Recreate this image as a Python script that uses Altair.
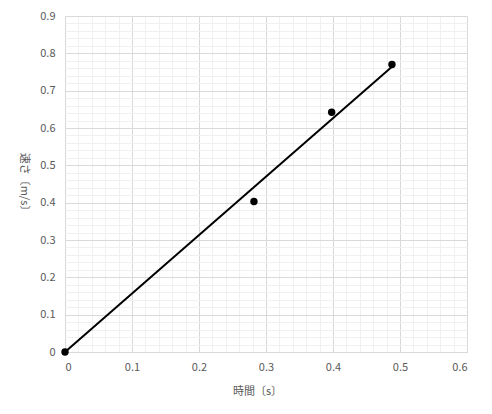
import altair as alt
import pandas as pd

# Measured data (time in s, speed in m/s)
time_s = [0.0, 0.282, 0.398, 0.488]
speed = [0.0, 0.403, 0.642, 0.770]

# Linear trendline through origin
fit_x = [0.0, 0.488]
fit_y = [0.0, 0.764]

x_ticks = [0, 0.1, 0.2, 0.3, 0.4, 0.5, 0.6]
y_ticks = [0, 0.1, 0.2, 0.3, 0.4, 0.5, 0.6, 0.7, 0.8, 0.9]
minor_x = [round(i * 0.02, 2) for i in range(31)]
minor_y = [round(i * 0.02, 2) for i in range(46)]

pts = pd.DataFrame({"t": time_s, "v": speed})
fit = pd.DataFrame({"t": fit_x, "v": fit_y})

FONT = "Noto Sans CJK JP"
xs = alt.Scale(domain=[0, 0.6], nice=False, zero=False)
ys = alt.Scale(domain=[0, 0.9], nice=False, zero=False)

minor = alt.Chart(pts).mark_point(opacity=0).encode(
    x=alt.X("t:Q", scale=xs, axis=alt.Axis(orient="top", values=minor_x, labels=False, ticks=False,
                                           domain=False, grid=True, gridColor="#f0f0f0", gridWidth=1, title=None)),
    y=alt.Y("v:Q", scale=ys, axis=alt.Axis(orient="right", values=minor_y, labels=False, ticks=False,
                                           domain=False, grid=True, gridColor="#f0f0f0", gridWidth=1, title=None)),
)

line = alt.Chart(fit).mark_line(color="black", strokeWidth=2).encode(
    x=alt.X("t:Q", scale=xs, axis=alt.Axis(orient="bottom", values=x_ticks, format="~g", ticks=False, tickSize=0,
                                           domain=False, grid=True, gridColor="#d9d9d9", gridWidth=1,
                                           labelPadding=9, labelFont=FONT, labelFontSize=11, labelColor="#595959",
                                           title="時間〔s〕", titleFont=FONT, titleFontSize=11, titleFontWeight="normal",
                                           titleColor="#595959", titleX=192, titleY=39, titleAlign="center",
                                           titleBaseline="middle")),
    y=alt.Y("v:Q", scale=ys, axis=alt.Axis(orient="left", values=y_ticks, format="~g", ticks=False, tickSize=0,
                                           domain=False, grid=True, gridColor="#d9d9d9", gridWidth=1,
                                           labelPadding=10, labelFont=FONT, labelFontSize=11, labelColor="#595959",
                                           title="速さ〔m/s〕", titleFont=FONT, titleFontSize=11, titleFontWeight="normal",
                                           titleColor="#595959", titleAngle=90, titleX=-42, titleY=168,
                                           titleAlign="center", titleBaseline="middle")),
)

points = alt.Chart(pts).mark_circle(color="black", size=55, opacity=1).encode(
    x=alt.X("t:Q", scale=xs, axis=None),
    y=alt.Y("v:Q", scale=ys, axis=None),
)

chart = alt.layer(minor, line, points).resolve_axis(x="independent", y="independent").properties(
    width=402, height=336,
    autosize=alt.AutoSizeParams(type="none"),
    padding={"left": 57, "top": 8, "right": 15, "bottom": 48},
).configure_view(stroke=None)

chart.save("out.html", embed_options={"renderer": "svg", "actions": False})
